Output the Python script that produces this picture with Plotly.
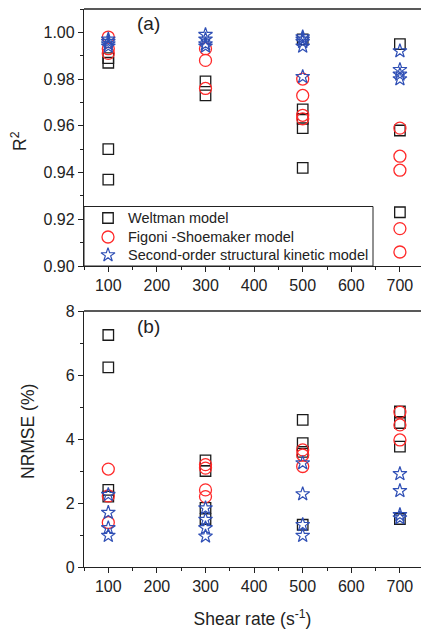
import plotly.graph_objects as go

# Shear rates (s^-1) and fitted statistics for each rheological model
weltman_r2_x = [100, 100, 100, 100, 300, 300, 500, 500, 500, 500, 500, 700, 700, 700]
weltman_r2_y = [0.989, 0.987, 0.950, 0.937, 0.979, 0.973, 0.997, 0.967, 0.963, 0.959, 0.942,
                0.995, 0.958, 0.923]

figoni_r2_x = [100, 100, 100, 300, 300, 300, 500, 500, 500, 500, 700, 700, 700, 700, 700]
figoni_r2_y = [0.998, 0.993, 0.991, 0.993, 0.988, 0.976, 0.980, 0.973, 0.9645, 0.963,
               0.959, 0.947, 0.941, 0.916, 0.906]

sosk_r2_x = [100, 100, 100, 100, 300, 300, 300, 300, 500, 500, 500, 500, 500, 700, 700, 700, 700]
sosk_r2_y = [0.997, 0.996, 0.995, 0.994, 0.999, 0.997, 0.995, 0.994, 0.998, 0.997, 0.996, 0.994,
             0.981, 0.992, 0.984, 0.982, 0.980]

weltman_nrmse_x = [100, 100, 100, 100, 300, 300, 300, 300, 500, 500, 500, 500, 700, 700, 700, 700]
weltman_nrmse_y = [7.25, 6.24, 2.41, 2.2, 3.33, 3.0, 1.85, 1.5, 4.6, 3.87, 3.6, 1.32,
                   4.86, 4.5, 3.76, 1.5]

figoni_nrmse_x = [100, 100, 100, 300, 300, 300, 300, 500, 500, 500, 700, 700, 700]
figoni_nrmse_y = [3.06, 2.22, 1.39, 3.2, 3.09, 2.41, 2.2, 3.66, 3.50, 3.14, 4.84, 4.44, 3.97]

sosk_nrmse_x = [100, 100, 100, 100, 300, 300, 300, 300, 500, 500, 500, 500, 700, 700, 700, 700]
sosk_nrmse_y = [2.26, 1.70, 1.22, 0.98, 1.84, 1.48, 1.22, 0.96, 3.25, 2.28, 1.32, 0.98,
                2.91, 2.38, 1.63, 1.53]

series_names = ["Weltman model", "Figoni -Shoemaker model",
                "Second-order structural kinetic model"]

x_ticks = [100, 200, 300, 400, 500, 600, 700]

INK = "#222222"
FONT = "Liberation Sans, Arial, sans-serif"

# Page geometry (pixels)
W, H = 421, 629
ML, MR, MT, MB = 84, 0, 9, 62
PW, PH = W - ML - MR, H - MT - MB
A_BOTTOM_PX, B_TOP_PX = 266, 311


def py(pix):
    """Page pixel row -> paper y fraction."""
    return (H - MB - pix) / PH


def px(pix):
    """Page pixel column -> paper x fraction."""
    return (pix - ML) / PW


styles = [
    dict(symbol="square-open", size=10.5, color="#1a1a1a", line=dict(width=1.3, color="#1a1a1a")),
    dict(symbol="circle-open", size=12, color="#ff2a2a", line=dict(width=1.3, color="#ff2a2a")),
    dict(symbol="star-open", size=10.5, color="#2f4fb5", line=dict(width=1.2, color="#2f4fb5")),
]

fig = go.Figure()

r2_data = [(weltman_r2_x, weltman_r2_y), (figoni_r2_x, figoni_r2_y), (sosk_r2_x, sosk_r2_y)]
nrmse_data = [(weltman_nrmse_x, weltman_nrmse_y), (figoni_nrmse_x, figoni_nrmse_y),
              (sosk_nrmse_x, sosk_nrmse_y)]

for name, (xs, ys), st in zip(series_names, r2_data, styles):
    fig.add_trace(go.Scatter(x=xs, y=ys, mode="markers", name=name, marker=st,
                             showlegend=False, xaxis="x", yaxis="y"))
for name, (xs, ys), st in zip(series_names, nrmse_data, styles):
    fig.add_trace(go.Scatter(x=xs, y=ys, mode="markers", name=name, marker=st,
                             showlegend=False, xaxis="x2", yaxis="y2"))

# Legend key for panel (a): drawn on an overlay axis measured in pixels
a_dom = [py(A_BOTTOM_PX), 1.0]
leg_rows_px = [218, 237, 255]
leg_sym_x = 24
for name, st, row in zip(series_names, styles, leg_rows_px):
    fig.add_trace(go.Scatter(x=[leg_sym_x], y=[A_BOTTOM_PX - row], mode="markers",
                             marker=st, showlegend=False, hoverinfo="skip",
                             xaxis="x3", yaxis="y3"))
    fig.add_annotation(text=name, xref="paper", yref="paper", x=px(126), y=py(row),
                       xanchor="left", yanchor="middle", showarrow=False,
                       font=dict(family=FONT, size=14.5, color=INK))

fig.add_shape(type="rect", xref="paper", yref="paper", x0=0, x1=px(373),
              y0=a_dom[0], y1=py(206.5), line=dict(color=INK, width=1),
              fillcolor="rgba(255,255,255,0)", layer="above")

axis_common = dict(
    showline=True, linecolor=INK, linewidth=1.3, showgrid=False, zeroline=False,
    ticks="outside", ticklen=5, tickwidth=1.2, tickcolor=INK,
    tickfont=dict(family=FONT, size=16, color=INK),
)

xaxis_common = dict(axis_common, range=[50, 743.4], tickvals=x_ticks,
                    minor=dict(dtick=50, tick0=0, ticks="outside", ticklen=3,
                               tickwidth=1, tickcolor=INK))

fig.update_layout(
    width=W, height=H,
    margin=dict(l=ML, r=MR, t=MT, b=MB),
    paper_bgcolor="white", plot_bgcolor="white",
    font=dict(family=FONT, color=INK),
    showlegend=False,
    xaxis=dict(xaxis_common, domain=[0, 1], anchor="y"),
    xaxis2=dict(xaxis_common, domain=[0, 1], anchor="y2",
                title=dict(text="Shear rate (s<sup>-1</sup>)",
                           font=dict(family=FONT, size=17.5, color=INK), standoff=18)),
    yaxis=dict(axis_common, domain=a_dom, range=[0.90, 1.01], anchor="x",
               tickvals=[0.90, 0.92, 0.94, 0.96, 0.98, 1.00], tickformat=".2f",
               minor=dict(dtick=0.01, tick0=0.9, ticks="outside", ticklen=3,
                          tickwidth=1, tickcolor=INK)),
    yaxis2=dict(axis_common, domain=[0, py(B_TOP_PX)], range=[0, 8], anchor="x2",
                tickvals=[0, 2, 4, 6, 8],
                minor=dict(dtick=1, tick0=0, ticks="outside", ticklen=3,
                           tickwidth=1, tickcolor=INK)),
    xaxis3=dict(overlaying="x", range=[0, PW], visible=False, anchor="y3",
                fixedrange=True),
    yaxis3=dict(overlaying="y", range=[0, A_BOTTOM_PX - MT], visible=False, anchor="x3",
                fixedrange=True),
)

# Top frame lines of both panels
for xref, yref in [("x domain", "y domain"), ("x2 domain", "y2 domain")]:
    fig.add_shape(type="line", xref=xref, yref=yref, x0=0, x1=1, y0=1, y1=1,
                  line=dict(color=INK, width=1.3))

# Panel labels and y-axis titles
centered = dict(xref="paper", yref="paper", xanchor="center", yanchor="middle",
                showarrow=False)
fig.add_annotation(text="(a)", x=px(148), y=py(24), **centered,
                   font=dict(family=FONT, size=19, color=INK))
fig.add_annotation(text="(b)", x=px(148), y=py(326), **centered,
                   font=dict(family=FONT, size=19, color=INK))
fig.add_annotation(text="R<sup>2</sup>", x=px(19), y=py(141), textangle=-90, **centered,
                   font=dict(family=FONT, size=17.5, color=INK))
fig.add_annotation(text="NRMSE (%)", x=px(28), y=py(432), textangle=-90, **centered,
                   font=dict(family=FONT, size=17.5, color=INK))

fig.write_html("out.html")
